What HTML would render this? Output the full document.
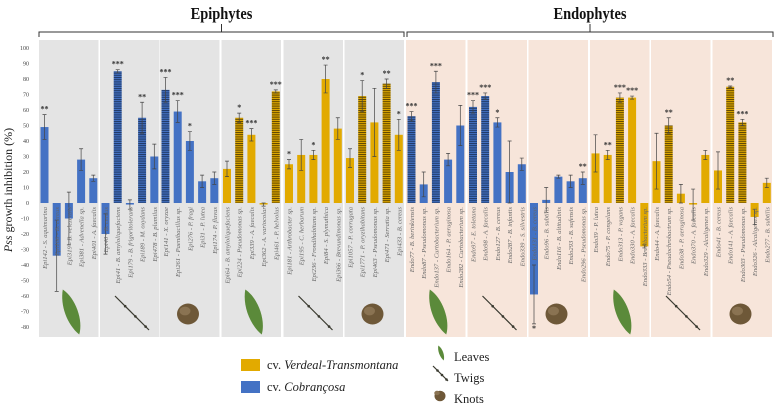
<!DOCTYPE html>
<html><head><meta charset="utf-8"><style>
body{margin:0;background:#fff;width:777px;height:409px;overflow:hidden}
svg{display:block;font-family:"Liberation Serif",serif}
</style></head><body>
<svg id="c" width="777" height="409">
<defs>
<pattern id="stB" width="4" height="2.2" patternUnits="userSpaceOnUse"><rect width="4" height="2.2" fill="#4472c4"/><rect width="4" height="1" fill="#1f3864"/></pattern>
<pattern id="stY" width="4" height="2.2" patternUnits="userSpaceOnUse"><rect width="4" height="2.2" fill="#e2aa00"/><rect width="4" height="1" fill="#5a4300"/></pattern>
</defs>
</svg>
<script>
const groups=["Epi-leaves-Cob","Epi-twigs-Cob","Epi-knots-Cob","Epi-leaves-VT","Epi-twigs-VT","Epi-knots-VT","Endo-leaves-Cob","Endo-twigs-Cob","Endo-knots-Cob","Endo-leaves-VT","Endo-twigs-VT","Endo-knots-VT"];
const labels=[
"Epi142 - S. aquimarina","Epi166 - B. cereus","Epi319 - B. velezensis","Epi381 - Advenella sp.","Epi401 - A. faecalis",
"Epi40 - B. cereus","Epi41 - B. amyloliquefaciens","Epi179 - B. frigoritolerans","Epi189 - M. oxydans","Epi478 - B. plumilus",
"Epi141 - X. oryzae","Epi261 - Paenibacillus sp.","Epi276 - P. fragi","Epi31 - P. lutea","Epi174 - P. flavus",
"Epi64 - B. amyloliquefaciens","Epi224 - Pseudomonas sp.","Epi339 - A. faecalis","Epi362 - A. variocolar","Epi461 - P. helvolus",
"Epi181 - Arthrobacter sp.","Epi195 - C. herbarum","Epi236 - Frondihabitans sp.","Epi84 - S. plymuthica","Epi366 - Brevundimonas sp.",
"Epi1057 - P. corrugata","Epi1771 - P. oryzihabitans","Epi463 - Pseudomonas sp.","Epi471 - Serratia sp.","Epi433 - B. cereus",
"Endo77 - B. berinkiensis","Endo87 - Pseudomonas sp.","Endo137 - Curtobacterium sp.","Endo164 - P. aeruginosa","Endo282 - Curtobacterium sp.",
"Endo97 - E. toletana","Endo98 - A. faecalis","Endo127 - B. cereus","Endo287 - B. infantis","Endo339 - S. silvestris",
"Endo131 - B. cereus","Endo96 - B. subtilis","Endo116 - B. altitudinis","Endo293 - B. safensis","Endo296 - Pseudomonas sp.",
"Endo39 - P. lutea","Endo75 - P. congelans","Endo313 - P. vagans","Endo330 - A. faecalis","Endo333 - Brevibacterium sp.",
"Endo44 - A. faecalis","Endo54 - Pseudochrobactrum sp.","Endo38 - P. aeruginosa","Endo370 - A. faecalis","Endo329 - Alcaligenes sp.",
"Endo41 - B. cereus","Endo141 - A. faecalis","Endo303 - Pseudomonas sp.","Endo326 - Alcaligenes sp.","Endo277 - B. subtilis"];
const values=[49,-34,-10,28,16, -20,85,-1,55,30, 73,59,40,14,16, 22,55,44,-1,72, 25,31,31,80,48, 29,69,52,77,44,
56,12,78,28,50, 62,69,52,20,25, -59,2,17,14,16, 32,31,68,68,-28, 27,50,6,-1,31, 21,75,52,-9,13];
const errors=[8,23,17,7,2, 13,1,3,10,8, 8,7,6,4,4, 5,3,4,1,1, 3,10,3,9,7, 6,10,22,3,10,
3,8,7,4,13, 4,2,3,20,4, 19,8,1,4,4, 12,3,3,1,1, 18,5,6,10,3, 12,0.5,2,5,3];
const striped=[0,0,0,0,0, 0,1,0,1,0, 1,0,0,0,0, 0,1,0,0,1, 0,0,0,0,0, 0,1,0,1,0,
1,0,1,0,0, 1,1,0,0,0, 0,0,0,0,0, 0,0,1,0,0, 0,1,0,0,0, 0,1,1,0,0];
const stars=["**","","","","", "","***","","**","", "***","***","*","","", "","*","***","","***", "*","","*","**","", "","*","","**","*",
"***","","***","","", "***","***","*","","", "*","","","","**", "","**","***","***","", "","**","","","", "","**","***","",""];
const yTicks=[100,90,80,70,60,50,40,30,20,10,0,-10,-20,-30,-40,-50,-60,-70,-80];

const svg=document.getElementById('c');const NS="http://www.w3.org/2000/svg";
function mk(t,a,p){const e=document.createElementNS(NS,t);for(const k in a)e.setAttribute(k,a[k]);(p||svg).appendChild(e);return e;}
const y=v=>203-v*1.55;
const panelX=[39,100,160,221.5,283.5,344.5,406,467.5,528.5,590,651,712.5];
const pw=61;
// panels
groups.forEach((g,i)=>{const r=mk('rect',{x:panelX[i],y:40,width:pw-1.5,height:297,fill:i<6?'#e4e4e4':'#f7e5da'});
});
// brackets & titles
[[39,404,'Epiphytes'],[407,773,'Endophytes']].forEach(([a,b,t])=>{const m=(a+b)/2;
const p=mk('path',{d:`M${a},37 V32 H${b} V37 M${m},32 V24`,stroke:'#333',fill:'none','stroke-width':1});

const tx=mk('text',{x:m,y:19,'text-anchor':'middle','font-size':17,'font-weight':'bold',fill:'#111','transform':`scale(0.85,1) translate(${m/0.85-m},0)`});tx.textContent=t;
});
// y ticks
yTicks.forEach(v=>{const t=mk('text',{x:29,y:y(v)+2,'text-anchor':'end','font-size':6,fill:'#444'});t.textContent=v;
});
const yt=mk('text',{x:0,y:0,'text-anchor':'middle','font-size':12,fill:'#222',transform:'translate(12,190) rotate(-90)'});
yt.innerHTML='<tspan font-style="italic">Pss</tspan> growth inhibition (%)';

// bars
values.forEach((v,i)=>{const p=Math.floor(i/5),k=i%5;const cx=panelX[p]+5.5+k*12.2;
const blue=[0,1,2,6,7,8].includes(p);
const fill=striped[i]?(blue?'url(#stB)':'url(#stY)'):(blue?'#4472c4':'#e2aa00');
const top=Math.min(y(v),y(0)),h=Math.abs(y(v)-y(0));
const b=mk('rect',{x:cx-4,y:top,width:8,height:Math.max(h,0.8),fill});

const e=errors[i],y1=y(v+e),y2=y(v-e);
const eb=mk('path',{d:`M${cx},${y1}V${y2}M${cx-2},${y1}H${cx+2}M${cx-2},${y2}H${cx+2}`,stroke:'#444','stroke-width':0.7,fill:'none'});

if(stars[i]){const sy=v>=0?y1-3:y2+7;const s=mk('text',{x:cx,y:sy,'text-anchor':'middle','font-size':8,'font-weight':'bold',fill:'#333'});s.textContent=stars[i];
}
const l=mk('text',{x:0,y:0,'text-anchor':'end','font-size':6.6,'font-style':'italic',fill:'#666',transform:`translate(${cx+2.5},207) rotate(-90)`});l.textContent=labels[i];
});
// icons
function leaf(cx,cy,s){const g=mk('g',{transform:`translate(${cx},${cy}) rotate(-20) scale(${s})`});
mk('path',{d:'M0,-24 C9,-12 9,12 0,24 C-8,10 -8,-10 0,-24Z',fill:'#5b8a3a'},g);return g;}
function twig(x1,y1,x2,y2){const g=mk('g',{});mk('line',{x1,y1,x2,y2,stroke:'#3a3a30','stroke-width':1.2},g);
for(let t=0.3;t<1;t+=0.3){const x=x1+(x2-x1)*t,yy=y1+(y2-y1)*t;mk('circle',{cx:x,cy:yy,r:1.3,fill:'#3a3a30'},g);}return g;}
function knot(cx,cy,r){const g=mk('g',{});mk('ellipse',{cx,cy,rx:r,ry:r*0.95,fill:'#6e5838'},g);mk('ellipse',{cx:cx-3,cy:cy-3,rx:r*0.5,ry:r*0.4,fill:'#8a7352'},g);return g;}
[0,3,6,9].forEach(p=>{const g=leaf(panelX[p]+32,312,1);});
[1,4,7,10].forEach(p=>{const g=twig(panelX[p]+15,296,panelX[p]+49,330);});
[2,5,8,11].forEach(p=>{const g=knot(panelX[p]+28,314,11);});
// legend
[[359,'#e2aa00','Verdeal-Transmontana'],[381,'#4472c4','Cobrançosa']].forEach(([yy,c,t])=>{
const r=mk('rect',{x:241,y:yy,width:19,height:12,fill:c});
const tx=mk('text',{x:267,y:yy+10,'font-size':12.5,fill:'#222'});tx.innerHTML='cv. <tspan font-style="italic">'+t+'</tspan>';
});
let g=leaf(441,353,0.33);
g=twig(433,366,448,381);
g=knot(440,396,5.5);
[[357,'Leaves'],[378,'Twigs'],[399,'Knots']].forEach(([yy,t])=>{const tx=mk('text',{x:454,y:yy+4,'font-size':12.5,fill:'#222'});tx.textContent=t;
});
</script>
</body></html>
